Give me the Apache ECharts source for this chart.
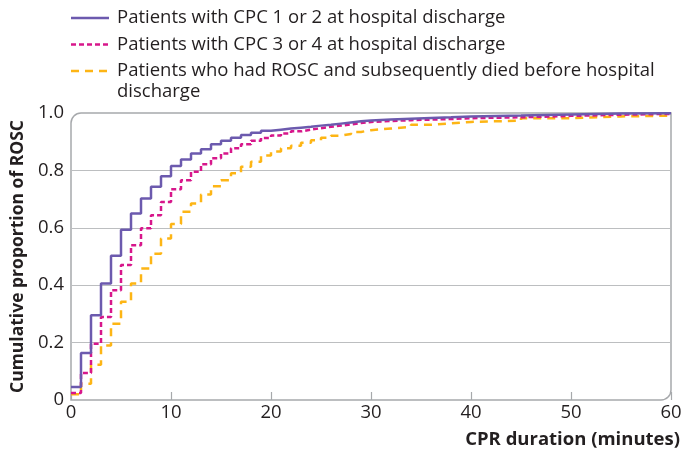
<!DOCTYPE html>
<html>
<head>
<meta charset="utf-8">
<script src="https://cdn.jsdelivr.net/npm/echarts@6/dist/echarts.min.js"></script>
<style>
html,body{margin:0;padding:0;background:#fff;}
#chart{width:682px;height:457px;}
</style>
</head>
<body>
<div id="chart"></div>
<script>
// ---- data ----
const minutes = [0,1,2,3,4,5,6,7,8,9,10,11,12,13,14,15,16,17,18,19,20,21,22,23,24,25,26,27,28,29,30,32,34,36,38,40,45,50,55,60];
const cpc12 = [0.045,0.164,0.295,0.406,0.503,0.593,0.650,0.702,0.743,0.780,0.815,0.838,0.859,0.874,0.891,0.903,0.914,0.923,0.931,0.938,0.942,0.946,0.949,0.952,0.956,0.959,0.963,0.967,0.971,0.974,0.977,0.980,0.983,0.985,0.988,0.991,0.995,0.998,0.999,1.000];
const cpc34 = [0.024,0.094,0.196,0.289,0.382,0.470,0.539,0.598,0.644,0.690,0.734,0.766,0.795,0.821,0.842,0.859,0.877,0.891,0.903,0.913,0.922,0.929,0.936,0.942,0.947,0.952,0.956,0.960,0.965,0.969,0.972,0.975,0.977,0.979,0.982,0.985,0.990,0.994,0.997,0.999];
const died  = [0.020,0.057,0.123,0.190,0.266,0.342,0.406,0.458,0.510,0.563,0.613,0.656,0.685,0.716,0.745,0.766,0.790,0.813,0.830,0.852,0.866,0.877,0.886,0.896,0.905,0.914,0.921,0.927,0.934,0.940,0.946,0.952,0.959,0.964,0.969,0.973,0.982,0.988,0.991,0.995];
const seriesNames = [
  'Patients with CPC 1 or 2 at hospital discharge',
  'Patients with CPC 3 or 4 at hospital discharge',
  'Patients who had ROSC and subsequently died before hospital\ndischarge'
];
const xTicks = [0,10,20,30,40,50,60];
const yTicks = [0,0.2,0.4,0.6,0.8,1.0];
const xTitle = 'CPR duration (minutes)';
const yTitle = 'Cumulative proportion of ROSC';

// ---- styles & layout ----
const FONT = '"Open Sans"';
const TXT = '#231f20';
const G = {left:71, right:11, top:113, bottom:57};
const W = 682, H = 457;
const lineStyles = [
  {color:'#6c5aae', width:2.5, type:'solid'},
  {color:'#d7178b', width:2.5, type:[5,3]},
  {color:'#fdb515', width:2.5, type:[8,6]}
];
const LEG = {x1:71, x2:109, tx:117, y0:18, dy:26.5, lh:21, fontSize:18.5};

const pairs = vals => minutes.map((m,i)=>[m, vals[i]]);
const seriesData = [cpc12, cpc34, died];

const legendGraphics = [];
seriesNames.forEach((name,i)=>{
  const y = LEG.y0 + i*LEG.dy;
  const ls = lineStyles[i];
  legendGraphics.push({
    type:'line', silent:true,
    shape:{x1:LEG.x1, y1:y, x2:LEG.x2, y2:y},
    style:{stroke:ls.color, lineWidth:ls.width, lineDash: ls.type==='solid' ? null : ls.type}
  });
  legendGraphics.push({
    type:'text', silent:true, x:LEG.tx, y:y - LEG.lh/2,
    style:{text:name, fontFamily:'Open Sans', fontSize:LEG.fontSize, lineHeight:LEG.lh,
      fill:TXT, verticalAlign:'top', align:'left'}
  });
});

const chart = echarts.init(document.getElementById('chart'), null, {renderer:'canvas'});
chart.setOption({
  animation:false,
  backgroundColor:'#fff',
  textStyle:{fontFamily:FONT},
  grid:{left:G.left, right:G.right, top:G.top, bottom:G.bottom, containLabel:false, outerBoundsMode:'none'},
  xAxis:{
    type:'value', min:0, max:60, interval:10,
    axisLine:{show:false},
    axisTick:{show:true, inside:true, length:8, lineStyle:{color:'#a7a9ac', width:1.2}},
    splitLine:{show:false},
    axisLabel:{fontFamily:FONT, fontSize:18.5, color:TXT, margin:3, align:'center',
      alignMinLabel:'center', alignMaxLabel:'center', hideOverlap:false,
      formatter: v => xTicks.includes(v) ? String(v) : ''},
    name:xTitle, nameLocation:'end', nameGap:9,
    nameTextStyle:{fontFamily:FONT, fontSize:18.5, fontWeight:'bold', color:TXT,
      align:'right', verticalAlign:'top', padding:[30,0,0,0]}
  },
  yAxis:{
    type:'value', min:0, max:1, interval:0.2,
    axisLine:{show:false}, axisTick:{show:false},
    splitLine:{show:true, showMinLine:false, showMaxLine:false, lineStyle:{color:'#bcbec0', width:1.2}},
    axisLabel:{fontFamily:FONT, fontSize:18.5, color:TXT, margin:7, hideOverlap:false,
      formatter: v => { const t = yTicks.find(k=>Math.abs(k-v)<1e-9); return t===undefined ? '' : (t===0 ? '0' : t.toFixed(1)); }},
    name:yTitle, nameLocation:'middle', nameGap:42, nameRotate:90,
    nameTextStyle:{fontFamily:FONT, fontSize:17.5, fontWeight:'bold', color:TXT}
  },
  graphic:[{
    type:'rect', z:0, silent:true,
    shape:{x:G.left, y:G.top, width:W-G.left-G.right, height:H-G.top-G.bottom, r:[10,0,10,0]},
    style:{fill:'none', stroke:'#a7a9ac', lineWidth:1.5}
  }].concat(legendGraphics),
  series: seriesNames.map((name,i)=>({
    name, type:'line', step:'end', showSymbol:false, symbol:'none', z:5-i,
    data:pairs(seriesData[i]),
    lineStyle:lineStyles[i], itemStyle:{color:lineStyles[i].color}
  }))
});
</script>
</body>
</html>
